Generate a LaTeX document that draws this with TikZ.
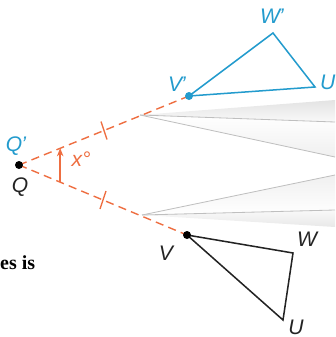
\documentclass[tikz,border=0pt]{standalone}
\usepackage{fontspec}
\newfontfamily\lblfont{Liberation Sans}
\setmainfont{Liberation Serif}
\usetikzlibrary{arrows.meta, positioning, calc}

\definecolor{imgblue}{RGB}{35,155,205}
\definecolor{imgorange}{RGB}{238,110,65}
\definecolor{imgdark}{RGB}{35,35,35}

\begin{document}
\begin{tikzpicture}[
    x=0.03cm, y=-0.03cm,
    lbl/.style={font=\lblfont\itshape\fontsize{18}{18}\selectfont, inner sep=0pt},
    ray/.style={imgorange, dash pattern=on 7pt off 4.5pt, line width=1.2pt},
    tick/.style={imgorange, line width=1.2pt},
    tri/.style={line width=1.3pt, line join=miter},
    band/.style={draw=gray!50, line width=0.7pt}
]
    \useasboundingbox (0,0) rectangle (335,337);

    % Shaded ribbon
    \shade[top color=gray!22, bottom color=gray!5] (140,115) -- (335,100) -- (335,122) -- cycle;
    \shade[top color=white, bottom color=gray!12] (140,115) -- (335,122) -- (335,157) -- cycle;
    \shade[top color=gray!12, bottom color=white] (142,215) -- (335,175) -- (335,210) -- cycle;
    \shade[top color=gray!5, bottom color=gray!18] (142,215) -- (335,210) -- (335,227) -- cycle;
    \coordinate (ta) at (140,115);
    \coordinate (ba) at (142,215);
    \draw[band] (ta) -- (335,122);
    \draw[band] (ta) -- (335,157);
    \draw[band] (ba) -- (335,175);
    \draw[band] (ba) -- (335,210);

    % Points
    \coordinate (q) at (19,165);
    \coordinate (vp) at (189,96);
    \coordinate (wp) at (273,33);
    \coordinate (up) at (315,87);
    \coordinate (v) at (187,235);
    \coordinate (w) at (293,253);
    \coordinate (u) at (283,320);

    % Rays
    \draw[ray] (q) -- (vp);
    \draw[ray] (q) -- (v);
    \draw[tick] ($(q)!0.5!(vp)$) ++(-3,-9) -- ++(6,18);
    \draw[tick] ($(q)!0.5!(v)$) ++(3,-9) -- ++(-6,18);

    % Angle
    \coordinate (alow) at ($(q)!0.245!(v)$);
    \coordinate (ahigh) at ($(q)!0.245!(vp)$);
    \draw[imgorange, line width=1.2pt, -{Stealth[length=7pt, width=5.5pt]}] (alow) -- (alow |- ahigh);
    \node[lbl, imgorange] (xang) at (81,159) {x\textdegree};

    % Triangles
    \draw[tri, imgblue] (vp) -- (wp) -- (up) -- cycle;
    \draw[tri, imgdark] (v) -- (w) -- (u) -- cycle;
    \fill[imgblue] (vp) circle (4);
    \fill[black] (v) circle (4);
    \fill[black] (q) circle (4);

    % Labels
    \node[lbl, imgblue] (qplbl) at (16,146) {Q\kern-0.05em\textquoteright};
    \node[lbl, imgdark] (qlbl) at (20,187) {Q};
    \node[lbl, imgblue] (vplbl) at (177,84) {V\kern-0.05em\textquoteright};
    \node[lbl, imgblue] (wplbl) at (272,16) {W\kern-0.05em\textquoteright};
    \node[lbl, imgblue, anchor=west] (uplbl) at (320,82) {U\kern-0.05em\textquoteright};
    \node[lbl, imgdark] (vlbl) at (166,253) {V};
    \node[lbl, imgdark] (wlbl) at (307,239) {W};
    \node[lbl, imgdark] (ulbl) at (296,327) {U};
    \node[anchor=west, inner sep=0pt, font=\bfseries\fontsize{17}{17}\selectfont] (txt) at (0,263) {es is};
\end{tikzpicture}
\end{document}
